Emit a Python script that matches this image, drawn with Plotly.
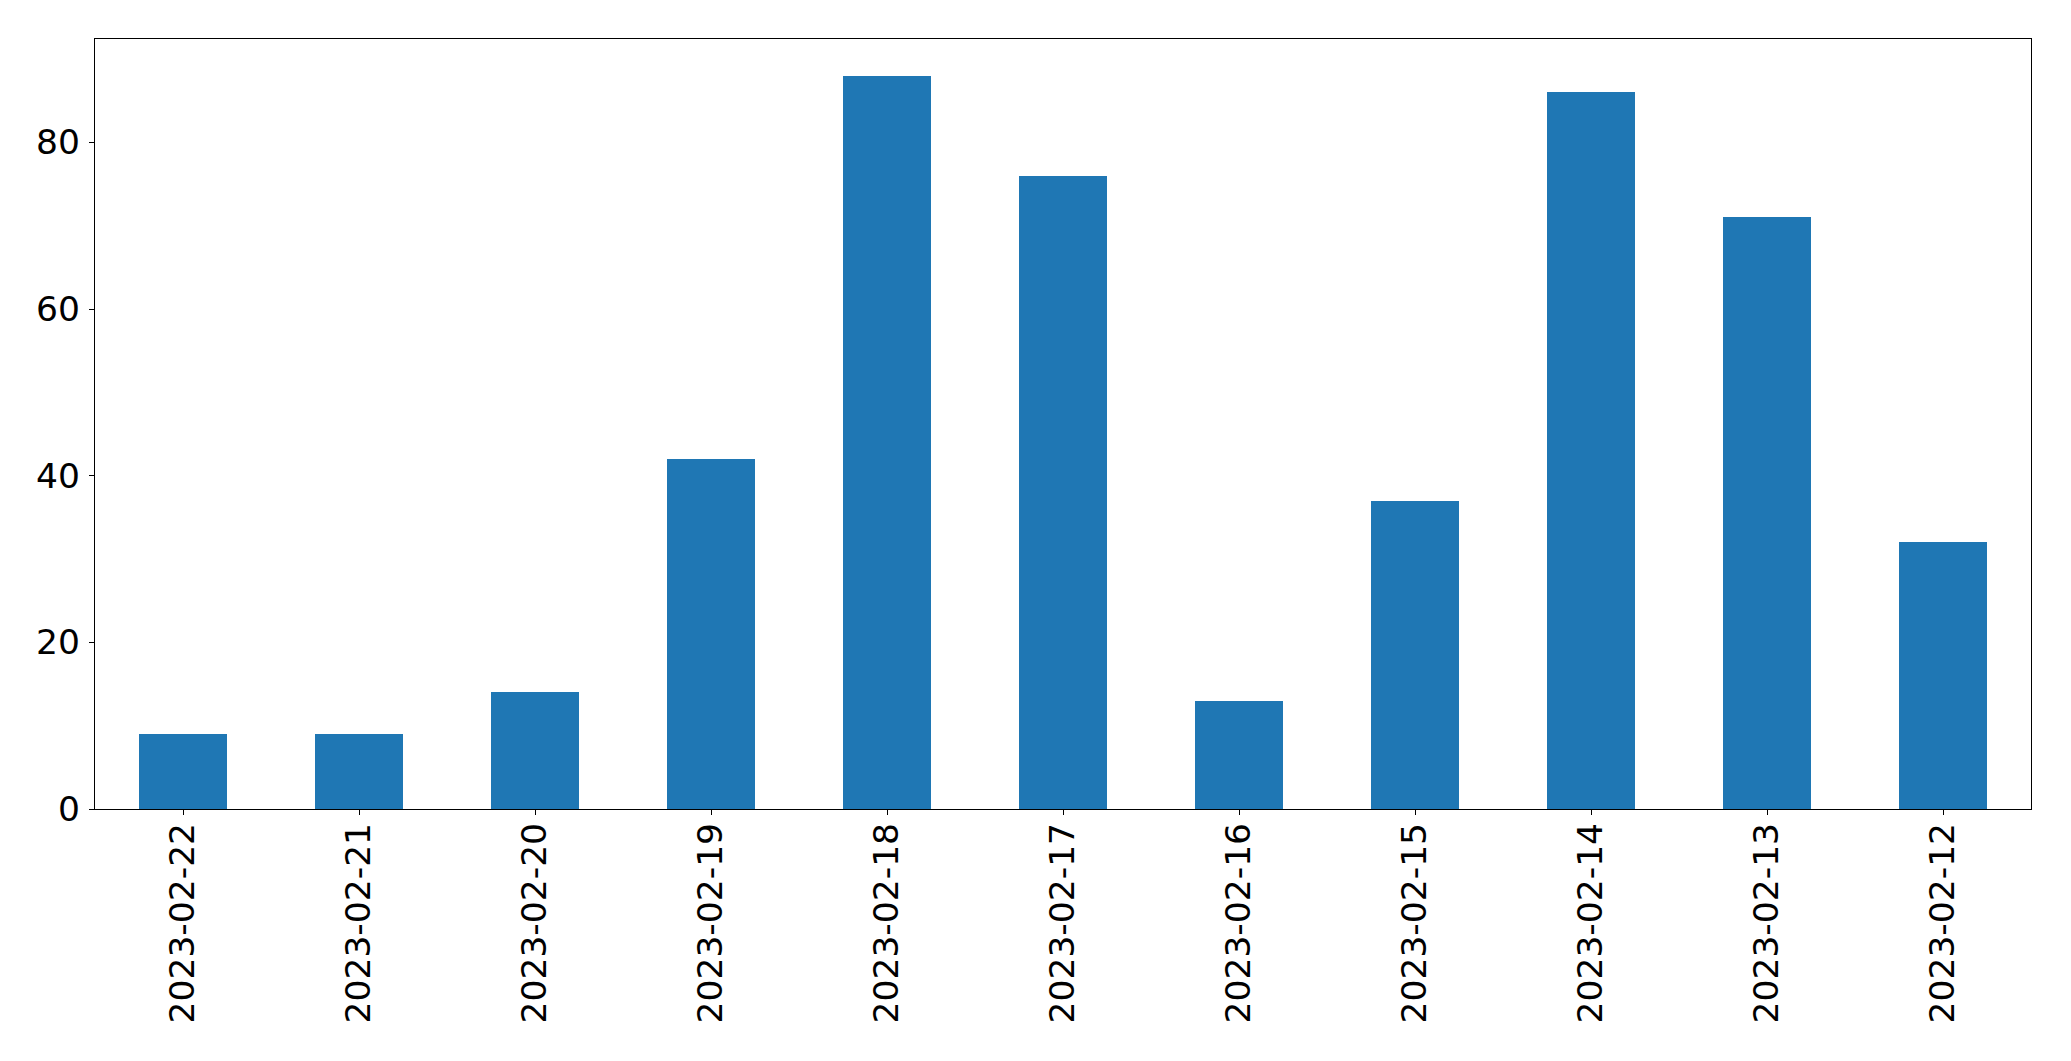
import plotly.graph_objects as go

dates = ["2023-02-22", "2023-02-21", "2023-02-20", "2023-02-19", "2023-02-18", "2023-02-17",
         "2023-02-16", "2023-02-15", "2023-02-14", "2023-02-13", "2023-02-12"]
counts = [9, 9, 14, 42, 88, 76, 13, 37, 86, 71, 32]
y_ticks = [0, 20, 40, 60, 80]

fig = go.Figure(go.Bar(x=dates, y=counts, width=0.5, marker=dict(color="#1f77b4", line=dict(width=0))))

fig.update_layout(
    width=2071, height=1061,
    margin=dict(l=95, r=40, t=39, b=252),
    paper_bgcolor="white", plot_bgcolor="white",
    font=dict(family="DejaVu Sans", size=34.5, color="black"),
    showlegend=False,
    bargap=0,
)
fig.update_xaxes(
    type="category", range=[-0.5, len(dates) - 0.5],
    tickangle=-90, ticks="outside", ticklen=5, tickwidth=1.3, tickcolor="black",
    showline=True, linecolor="black", linewidth=1.3, mirror=True,
    showgrid=False, zeroline=False, ticklabelstandoff=-6,
)
fig.update_yaxes(
    range=[0, 92.4], tickvals=y_ticks, ticktext=[str(v) for v in y_ticks],
    ticks="outside", ticklen=5, tickwidth=1.3, tickcolor="black",
    showline=True, linecolor="black", linewidth=1.3, mirror=True,
    showgrid=False, zeroline=False, ticklabelstandoff=2,
)

fig.write_html("out.html", config={"displayModeBar": False},
               post_script="document.body.style.margin='0';document.body.style.overflow='hidden';")
